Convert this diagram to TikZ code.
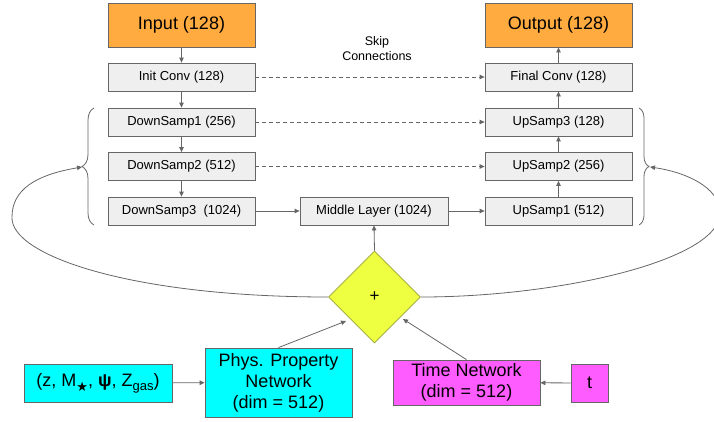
\documentclass[tikz,border=0pt]{standalone}
\usepackage{fontspec}
\setmainfont{Liberation Sans}
\newfontfamily\dejavu{DejaVu Sans}
\usetikzlibrary{arrows.meta,shapes.geometric,decorations.pathreplacing}
\definecolor{boxgray}{HTML}{EFEFEF}
\definecolor{linegray}{HTML}{666666}
\definecolor{orangebox}{HTML}{FFAB40}
\definecolor{cyanbox}{HTML}{00FFFF}
\definecolor{magbox}{HTML}{FF5CFF}
\definecolor{limebox}{HTML}{EEFF41}
\definecolor{limeborder}{HTML}{9AA33A}
\tikzset{
  blk/.style={draw=linegray, line width=0.8pt, fill=boxgray, minimum width=147pt, minimum height=28pt, inner sep=0pt, font=\fontsize{13}{15}\selectfont},
  bigblk/.style={draw=linegray, line width=0.8pt, fill=orangebox, minimum width=147pt, minimum height=44pt, inner sep=0pt, font=\fontsize{18}{21}\selectfont},
  netblk/.style={draw=linegray, line width=0.8pt, inner sep=0pt, align=center, font=\fontsize{18}{21}\selectfont},
  arr/.style={draw=linegray, line width=0.8pt, -{Triangle[length=5pt,width=4.5pt]}},
  skiparr/.style={arr, dash pattern=on 4pt off 3pt},
  bracestyle/.style={draw=linegray, line width=0.8pt, decorate},
}
\begin{document}
\begin{tikzpicture}[x=1pt,y=-1pt]
\useasboundingbox (0,0) rectangle (714,421);
% top
\node[bigblk] (inp) at (181.5,25) {Input (128)};
\node[bigblk] (out) at (558.5,25) {Output (128)};
\node[blk] (init) at (181.5,77) {Init Conv (128)};
\node[blk] (final) at (558.5,77) {Final Conv (128)};
\node[blk] (d1) at (181.5,122) {DownSamp1 (256)};
\node[blk] (d2) at (181.5,166.5) {DownSamp2 (512)};
\node[blk] (d3) at (181.5,211) {DownSamp3~ (1024)};
\node[blk, minimum width=148pt] (mid) at (374,211) {Middle Layer (1024)};
\node[blk] (u3) at (558.5,122) {UpSamp3 (128)};
\node[blk] (u2) at (558.5,166.5) {UpSamp2 (256)};
\node[blk] (u1) at (558.5,211) {UpSamp1 (512)};
\node[align=center, font=\fontsize{12.5}{15}\selectfont, inner sep=0pt] (skip) at (377,48.5) {Skip\\Connections};
% diamond
\node[diamond, draw=limeborder, line width=0.8pt, fill=limebox, minimum width=92pt, minimum height=92pt, inner sep=0pt, aspect=1, font=\fontsize{17}{19}\selectfont] (dia) at (374.5,297) {+};
% bottom
\node[netblk, fill=cyanbox, minimum width=148pt, minimum height=38pt] (par) at (98,383)
  {(z, M\raisebox{-5pt}{\fontsize{13}{13}\dejavu ★}, \textbf{ψ}, Z\raisebox{-4pt}{\fontsize{13}{13}\selectfont gas})};
\node[netblk, fill=cyanbox, minimum width=147pt, minimum height=69pt] (phys) at (278.5,382.5) {Phys. Property\\Network\\(dim = 512)};
\node[netblk, fill=magbox, minimum width=147pt, minimum height=45pt] (time) at (466.5,382.5) {Time Network\\(dim = 512)};
\node[netblk, fill=magbox, minimum width=37pt, minimum height=38pt] (tt) at (589.5,383) {t};
\coordinate (dsw) at (346,321);
\coordinate (dse) at (403,319);
% vertical arrows
\draw[arr] (inp) -- (init);
\draw[arr] (init) -- (d1);
\draw[arr] (d1) -- (d2);
\draw[arr] (d2) -- (d3);
\draw[arr] (d3) -- (mid);
\draw[arr] (mid) -- (u1);
\draw[arr] (u1) -- (u2);
\draw[arr] (u2) -- (u3);
\draw[arr] (u3) -- (final);
\draw[arr] (final) -- (out);
% skip connections
\draw[skiparr] (init) -- (final);
\draw[skiparr] (d1) -- (u3);
\draw[skiparr] (d2) -- (u2);
% diamond inputs
\draw[arr] (dia.north) -- (mid.south);
\draw[arr] (phys.north) -- (dsw);
\draw[arr] (time.north) -- (dse);
\draw[arr] (par) -- (phys);
\draw[arr] (tt) -- (time);
% braces
\draw[bracestyle, decoration={brace, amplitude=12pt}] (94,225) -- (94,108);
\draw[bracestyle, decoration={brace, amplitude=10pt}] (639,108) -- (639,225);
\coordinate (lb) at (82,167);
\coordinate (rb) at (650,167);
% loops
\draw[arr] (dia.west) .. controls (130,297) and (10,255) .. (12,217) .. controls (12,190) and (35,175) .. (lb);
\draw[arr] (dia.east) .. controls (560,297) and (720,260) .. (720,213) .. controls (720,187) and (685,172) .. (rb);
\end{tikzpicture}
\end{document}
